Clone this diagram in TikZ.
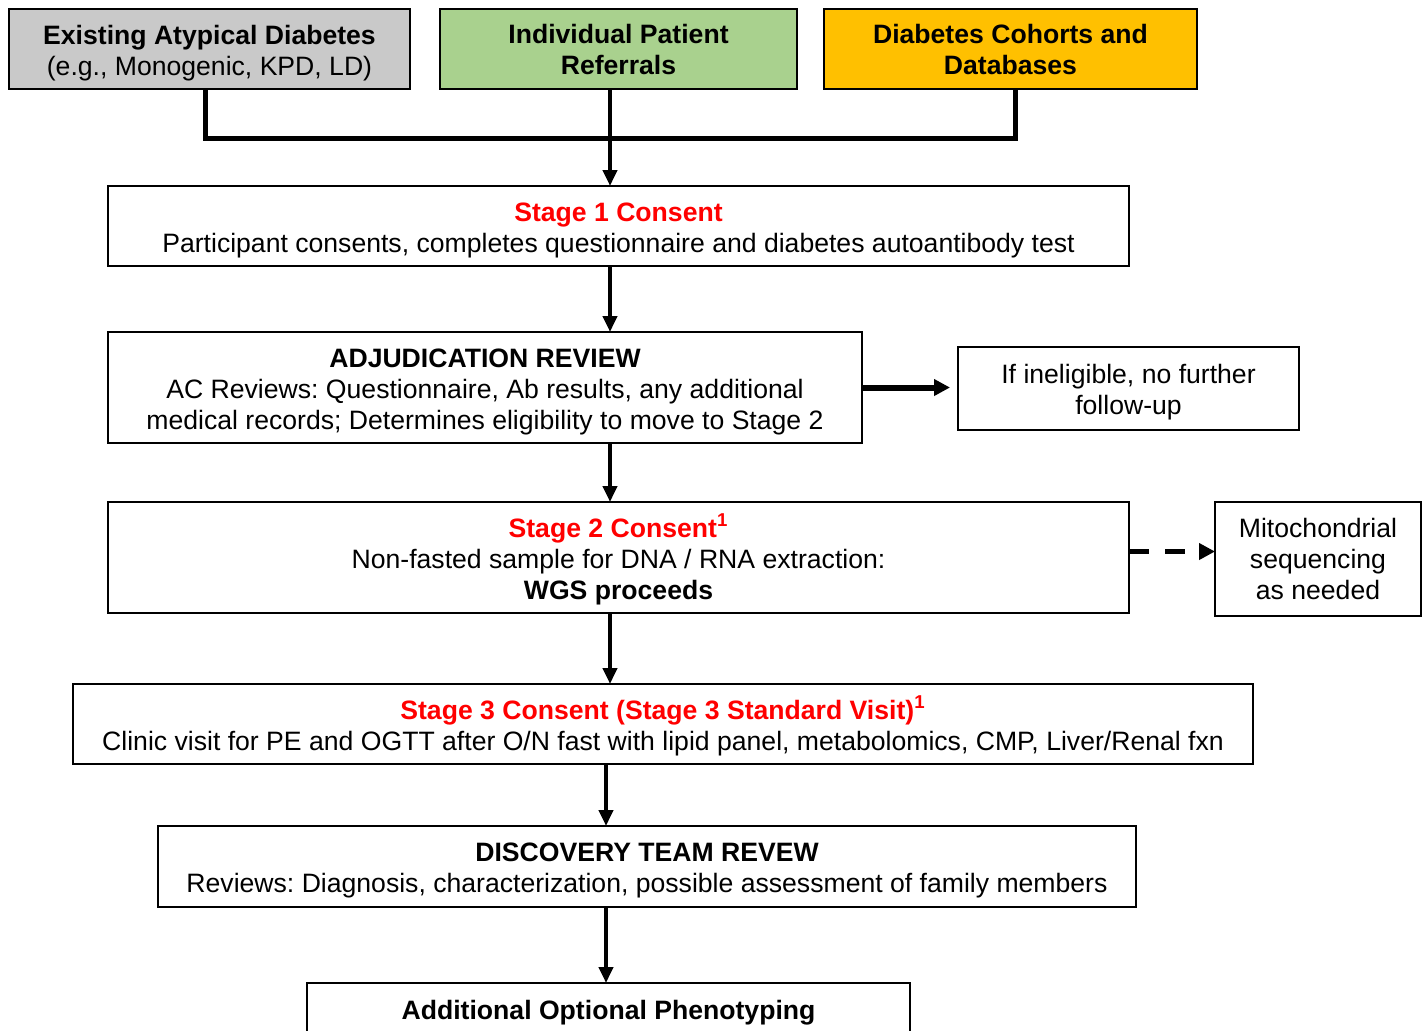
\documentclass[tikz,border=0pt]{standalone}
\usepackage{fontspec}
\setmainfont{Liberation Sans}
\usetikzlibrary{arrows.meta,calc}
\definecolor{srcgray}{HTML}{C9C9C9}
\definecolor{srcgreen}{HTML}{A9D18E}
\definecolor{srcgold}{HTML}{FFC000}
\definecolor{stagered}{HTML}{FF0000}
\newcommand{\stagetitle}[1]{\textcolor{stagered}{\textbf{#1}}}
\newcommand{\boxstrut}{\rule{0pt}{13.5pt}}
\frenchspacing
\tikzset{
    flowbox/.style = {
        align=center,
        rectangle,
        draw=black,
        line width=1pt,
        inner sep=0pt,
        outer sep=0pt,
        font=\fontsize{13.3}{15.5}\selectfont
    },
    sourcebox/.style = {
        flowbox,
        minimum height=40pt
    },
    stagebox/.style = {
        flowbox
    },
    sidebox/.style = {
        flowbox
    },
    flowarrow/.style = {
        line width=2pt,
        -{Triangle[length=8pt,width=7pt]}
    },
    sidearrow/.style = {
        line width=3pt,
        -{Triangle[length=8pt,width=8pt]}
    },
    optarrow/.style = {
        line width=2.5pt,
        dash pattern=on 10pt off 8pt,
        -{Triangle[length=8pt,width=8pt]}
    },
    joinline/.style = {
        line width=2.5pt
    }
}

\begin{document}
\begin{tikzpicture}[x=0.5pt,y=-0.5pt]
    \useasboundingbox (0,0) rectangle (1428,1030);
    % sources
    \node [sourcebox, fill=srcgray, minimum width=200.5pt] (existing) at (209.5,49)
        {\boxstrut\textbf{Existing Atypical Diabetes}\\(e.g., Monogenic, KPD, LD)};
    \node [sourcebox, fill=srcgreen, minimum width=178.5pt] (referral) at (618.5,49)
        {\textbf{Individual Patient}\\\textbf{Referrals}};
    \node [sourcebox, fill=srcgold, minimum width=186.5pt] (cohort) at (1010.5,49)
        {\textbf{Diabetes Cohorts and}\\\textbf{Databases}};
    % stages
    \node [stagebox, minimum width=510.5pt, minimum height=40pt] (stageone) at (618.5,226)
        {\boxstrut\stagetitle{Stage 1 Consent}\\Participant consents, completes questionnaire and diabetes autoantibody test};
    \node [stagebox, minimum width=377pt, minimum height=55.5pt] (adjudication) at (485,387.5)
        {\boxstrut\textbf{ADJUDICATION REVIEW}\\AC Reviews: Questionnaire, Ab results, any additional\\medical records; Determines eligibility to move to Stage 2};
    \node [sidebox, minimum width=170.5pt, minimum height=41.5pt] (ineligible) at (1128.5,388.5)
        {\boxstrut If ineligible, no further\\follow-up};
    \node [stagebox, minimum width=510.5pt, minimum height=55.5pt] (stagetwo) at (618.5,557.5)
        {\boxstrut\stagetitle{Stage 2 Consent\textsuperscript{1}}\\Non-fasted sample for DNA / RNA extraction:\\\textbf{WGS proceeds}};
    \node [sidebox, minimum width=103pt, minimum height=57pt] (mito) at (1318,559)
        {Mitochondrial\\sequencing\\as needed};
    \node [stagebox, minimum width=590pt, minimum height=40pt] (stagethree) at (663,724)
        {\boxstrut\stagetitle{Stage 3 Consent (Stage 3 Standard Visit)\textsuperscript{1}}\\Clinic visit for PE and OGTT after O/N fast with lipid panel, metabolomics, CMP, Liver/Renal fxn};
    \node [stagebox, minimum width=489pt, minimum height=40.5pt] (discovery) at (647,866.5)
        {\boxstrut\textbf{DISCOVERY TEAM REVEW}\\Reviews: Diagnosis, characterization, possible assessment of family members};
    \node [stagebox, minimum width=301.5pt, minimum height=30pt] (phenotyping) at (608.5,1013)
        {\textbf{Additional Optional Phenotyping}};
    % connectors
    \coordinate (joinleft) at (205,138);
    \coordinate (joinright) at (1015,138);
    \coordinate (spine) at (610,0);
    \coordinate (spinelow) at (606,0);
    \draw [joinline] (existing.south -| joinleft) -- (joinleft) -- (joinright) -- (cohort.south -| joinright);
    \draw [flowarrow] (referral.south -| spine) -- (stageone.north -| spine);
    \draw [flowarrow] (stageone.south -| spine) -- (adjudication.north -| spine);
    \draw [sidearrow] (adjudication.east) -- ($(adjudication.east -| ineligible.west)+(-8,0)$);
    \draw [flowarrow] (adjudication.south -| spine) -- (stagetwo.north -| spine);
    \draw [optarrow] ($(stagetwo.east)+(0,-6)$) -- ($(stagetwo.east -| mito.west)+(0,-6)$);
    \draw [flowarrow] (stagetwo.south -| spine) -- (stagethree.north -| spine);
    \draw [flowarrow] (stagethree.south -| spinelow) -- (discovery.north -| spinelow);
    \draw [flowarrow] (discovery.south -| spinelow) -- (phenotyping.north -| spinelow);
\end{tikzpicture}
\end{document}
